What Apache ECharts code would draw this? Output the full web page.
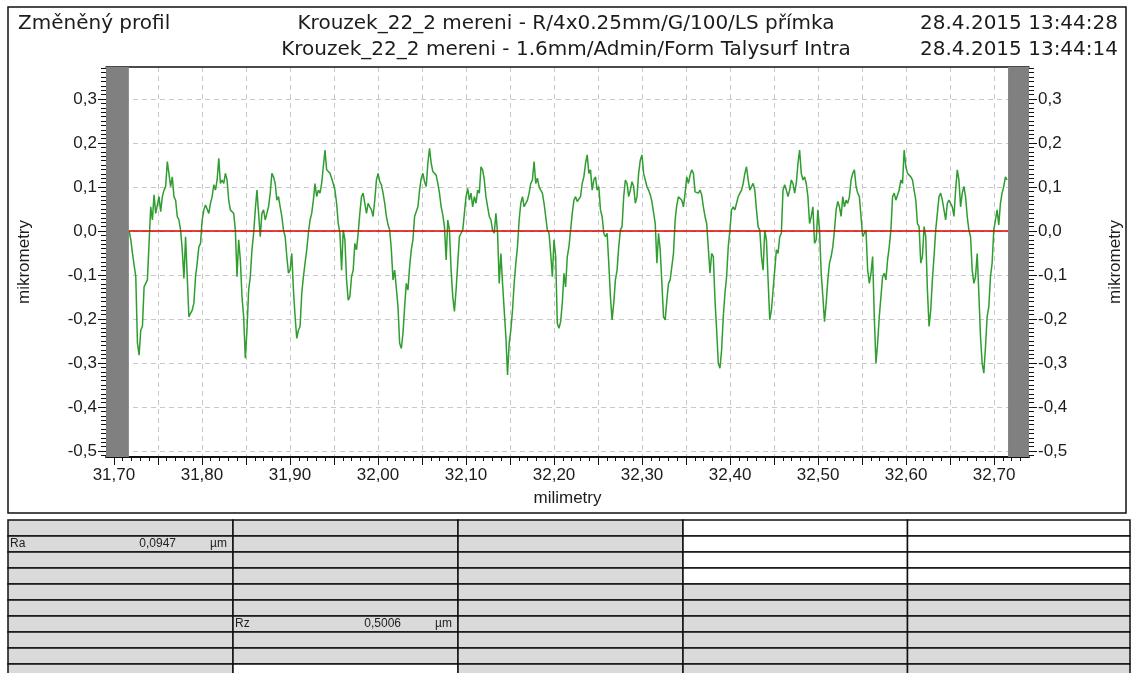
<!DOCTYPE html>
<html>
<head>
<meta charset="utf-8">
<script src="https://cdn.jsdelivr.net/npm/echarts@6.0.0/dist/echarts.min.js"></script>
<style>
html, body { margin: 0; padding: 0; background: #fff; }
#main { width: 1132px; height: 673px; }
</style>
</head>
<body>
<div id="main"></div>
<script>
var myChart = echarts.init(document.getElementById('main'));

// header texts
var headerTitle = 'Změněný profil';
var headerLines = [
    'Krouzek_22_2 mereni - R/4x0.25mm/G/100/LS přímka',
    'Krouzek_22_2 mereni - 1.6mm/Admin/Form Talysurf Intra'
];
var headerDates = ['28.4.2015 13:44:28', '28.4.2015 13:44:14'];

// axes (mm / µm)
var xMin = 31.691, xMax = 32.7396;
var yMin = -0.5136, yMax = 0.3727;
var xLabelValues = [31.70, 31.80, 31.90, 32.00, 32.10, 32.20, 32.30, 32.40, 32.50, 32.60, 32.70];
var xTickValues = [31.70, 31.75, 31.80, 31.85, 31.90, 31.95, 32.00, 32.05, 32.10, 32.15, 32.20,
    32.25, 32.30, 32.35, 32.40, 32.45, 32.50, 32.55, 32.60, 32.65, 32.70];
var yLabelValues = [-0.5, -0.4, -0.3, -0.2, -0.1, 0, 0.1, 0.2, 0.3];

// profile sampling (mm) and excluded run-in / run-out zones
var sampleStart = 31.7173;
var sampleStep = 0.0018854;
var cutLeft = 31.717, cutRight = 32.7158;
var lsLevel = 0;

// measured profile heights, µm
var profileA = [
    0, -0.020, -0.051, -0.052, -0.104, -0.255, -0.282, -0.225, -0.217, -0.127,
    -0.127, -0.111, -0.028, 0.055, 0.025, 0.082, 0.040, 0.044, 0.078, 0.044,
    0.078, 0.093, 0.101, 0.158, 0.154, 0.101, 0.123, 0.078, 0.070, 0.033,
    0.025, 0.002, -0.043, -0.108, -0.013, -0.104, -0.195, -0.187, -0.180, -0.164,
    -0.104, -0.073, -0.036, -0.028, 0.025, 0.048, 0.059, 0.055, 0.040, 0.063,
    0.078, 0.105, 0.093, 0.116, 0.165, 0.108, 0.116, 0.108, 0.131, 0.116,
    0.070, 0.048, 0.052, 0.040, 0.002, -0.104, -0.020, -0.066, -0.149, -0.195,
    -0.289, -0.225, -0.134, -0.104, -0.043, -0.005, 0.048, 0.093, 0.040, -0.013,
    0.040, 0.048, 0.025, 0.040, 0.055, 0.086, 0.131, 0.123, 0.108, 0.070,
    0.078, 0.055, 0.033, 0.002, -0.013, -0.058, -0.096, -0.089, -0.051, -0.134,
    -0.195, -0.244, -0.225, -0.217, -0.142, -0.104, -0.073, -0.043, -0.005, 0.025,
    0.040, 0.070, 0.108, 0.078, 0.093, 0.086, 0.108, 0.146, 0.184, 0.139,
    0.139, 0.131, 0.127, 0.108, 0.093, 0.063, 0.017, -0.005, -0.089, 0.002,
    -0.020, -0.111, -0.157, -0.149, -0.104, -0.089, -0.028, -0.043, -0.005, 0.040,
    0.078, 0.086, 0.063, 0.040, 0.063, 0.055, 0.048, 0.033, 0.070, 0.116,
    0.131, 0.112, 0.105, 0.086, 0.063, 0.033, 0.014, 0.002, -0.043, -0.111,
    -0.089, -0.089, -0.172, -0.255, -0.267, -0.233, -0.172, -0.119, -0.134, -0.081,
    -0.043, -0.020, 0.033, 0.036, 0.055, 0.093, 0.120, 0.131, 0.112, 0.101,
    0.154, 0.188, 0.154, 0.135, 0.131, 0.127, 0.108, 0.086, 0.055, 0.036,
    0.010
];
var profileB = [
    -0.066, 0.025, 0.002, -0.089, -0.149, -0.183, -0.134, -0.073, -0.013, -0.005,
    0.002, 0.040, 0.078, 0.097, 0.070, 0.086, 0.055, 0.078, 0.063, 0.093,
    0.086, 0.146, 0.139, 0.116, 0.078, 0.055, 0.033, 0.025, 0.002, -0.005,
    0.040, -0.005, -0.119, -0.051, -0.119, -0.180, -0.240, -0.327, -0.255, -0.225,
    -0.180, -0.119, -0.073, -0.036, 0.025, 0.063, 0.078, 0.055, 0.063, 0.070,
    0.086, 0.108, 0.116, 0.158, 0.108, 0.120, 0.101, 0.093, 0.086, 0.063,
    0.033, 0.002, -0.005, -0.051, -0.104, -0.020, -0.058, -0.210, -0.221, -0.206,
    -0.164, -0.096, -0.127, -0.058, -0.036, 0.002, 0.040, 0.070, 0.078, 0.067,
    0.063, 0.078, 0.108, 0.123, 0.154, 0.173, 0.131, 0.139, 0.093, 0.116,
    0.123, 0.093, 0.101, 0.048, 0.033, -0.005, -0.013, -0.005, -0.073, -0.149,
    -0.202, -0.164, -0.111, -0.089, -0.036, 0.002, 0.010, 0.078, 0.116, 0.108,
    0.078, 0.093, 0.112, 0.101, 0.063, 0.078, 0.131, 0.161, 0.173, 0.131,
    0.127, 0.101, 0.093, 0.082, 0.067, 0.063, 0.017, -0.073, -0.005, -0.043,
    -0.119, -0.195, -0.202, -0.157, -0.119, -0.111, -0.081, -0.051, 0.025, 0.059,
    0.078, 0.078, 0.070, 0.055, 0.086, 0.123, 0.108, 0.127, 0.139, 0.131,
    0.089, 0.093, 0.086, 0.093, 0.082, 0.055, 0.033, 0.017, 0.017, -0.096,
    -0.051, -0.058, -0.157, -0.225, -0.301, -0.312, -0.270, -0.195, -0.142, -0.104,
    -0.036, 0.002, 0.048, 0.055, 0.048, 0.063, 0.078, 0.078, 0.093, 0.108,
    0.131, 0.146, 0.116, 0.093, 0.101, 0.108, 0.093, 0.048, 0.010, 0.002,
    -0.058
];
var profileC = [
    -0.089, 0.002, -0.020, -0.111, -0.202, -0.180, -0.134, -0.089, -0.043, -0.051,
    -0.013, -0.005, 0.093, 0.105, 0.093, 0.078, 0.093, 0.116, 0.108, 0.086,
    0.108, 0.154, 0.184, 0.131, 0.116, 0.123, 0.108, 0.078, 0.017, 0.033,
    0.055, -0.028, -0.020, 0.048, 0.002, -0.096, -0.149, -0.206, -0.164, -0.111,
    -0.073, -0.058, -0.036, 0.002, 0.048, 0.067, 0.055, 0.033, 0.078, 0.055,
    0.070, 0.063, 0.078, 0.116, 0.131, 0.139, 0.101, 0.086, 0.078, 0.033,
    -0.013, -0.005, 0.002, -0.089, -0.119, -0.096, -0.058, -0.195, -0.301, -0.255,
    -0.195, -0.149, -0.104, -0.096, -0.111, -0.066, -0.036, 0.002, 0.078, 0.086,
    0.070, 0.082, 0.093, 0.116, 0.108, 0.184, 0.146, 0.131, 0.135, 0.123,
    0.116, 0.093, 0.070, 0.017, 0.010, -0.073, -0.058, 0.010, -0.013, -0.134,
    -0.217, -0.180, -0.111, -0.058, 0.002, 0.040, 0.078, 0.086, 0.070, 0.048,
    0.025, 0.063, 0.070, 0.070, 0.055, 0.033, 0.093, 0.139, 0.116, 0.055,
    0.086, 0.101, 0.078, 0.033, 0.002, -0.013, -0.089, -0.119, -0.104, -0.051,
    -0.142, -0.240, -0.301, -0.323, -0.263, -0.195, -0.172, -0.104, -0.073, 0.002,
    0.025, 0.048, 0.014, 0.063, 0.086, 0.101, 0.123, 0.116
];

// parameter table
var paramNames = ['Ra', 'Rz'];
var paramValues = ['0,0947', '0,5006'];
var paramUnit = 'µm';

var profile = profileA.concat(profileB, profileC);
var profileData = profile.map(function (v, i) {
    return [+(sampleStart + i * sampleStep).toFixed(5), v];
});

var xMinor = [];
for (var i = 0; i <= 103; i++) xMinor.push(+(31.70 + i * 0.01).toFixed(2));
var yMinor = [];
for (var j = -51; j <= 37; j++) yMinor.push(+(j * 0.01).toFixed(2));

var comma = function (d) {
    return function (v) { return v.toFixed(d).replace('.', ','); };
};
var labelFont = { fontSize: 17, fontFamily: 'Liberation Sans', color: '#1c1c1c' };
var gridDash = { color: '#c8c8c8', width: 1, type: [5, 4] };

// frame, header, table
var graphics = [
    { type: 'rect', shape: { x: 8, y: 7, width: 1118, height: 506 },
      style: { fill: 'none', stroke: '#111', lineWidth: 1.5 } },
    { type: 'text', x: 18, y: 24, style: { text: headerTitle, font: '20px "DejaVu Sans"', fill: '#1c1c1c', textVerticalAlign: 'middle' } }
];
headerLines.forEach(function (t, k) {
    graphics.push({ type: 'text', x: 566, y: 24 + k * 26,
        style: { text: t, font: '20px "DejaVu Sans"', fill: '#1c1c1c', textAlign: 'center', textVerticalAlign: 'middle' } });
    graphics.push({ type: 'text', x: 1118, y: 24 + k * 26,
        style: { text: headerDates[k], font: '20px "DejaVu Sans"', fill: '#1c1c1c', textAlign: 'right', textVerticalAlign: 'middle' } });
});

var colX = [8, 233, 458, 683, 907.5, 1130];
var rowTop = 520, rowH = 16, rowCount = 10;
var whiteCells = ['3-0', '3-1', '3-2', '3-3', '4-0', '4-1', '4-2', '4-3', '1-9'];
for (var c = 0; c < colX.length - 1; c++) {
    for (var r = 0; r < rowCount; r++) {
        graphics.push({ type: 'rect',
            shape: { x: colX[c], y: rowTop + r * rowH, width: colX[c + 1] - colX[c], height: rowH },
            style: { fill: whiteCells.indexOf(c + '-' + r) >= 0 ? '#ffffff' : '#dadada', stroke: '#111', lineWidth: 1.5 } });
    }
}
var paramCells = [[0, 1], [1, 6]];
paramCells.forEach(function (cell, k) {
    var x0 = colX[cell[0]], yc = rowTop + cell[1] * rowH + rowH / 2;
    var f = '12px "Liberation Sans"';
    graphics.push({ type: 'text', x: x0 + 2, y: yc, style: { text: paramNames[k], font: f, fill: '#222', textVerticalAlign: 'middle' } });
    graphics.push({ type: 'text', x: x0 + 168, y: yc, style: { text: paramValues[k], font: f, fill: '#222', textAlign: 'right', textVerticalAlign: 'middle' } });
    graphics.push({ type: 'text', x: x0 + 202, y: yc, style: { text: paramUnit, font: f, fill: '#222', textVerticalAlign: 'middle' } });
});

option = {
    animation: false,
    backgroundColor: '#fff',
    grid: { left: 106, right: 99, top: 67, bottom: 216 },
    xAxis: [
        {
            type: 'value', min: xMin, max: xMax, position: 'bottom',
            name: 'milimetry', nameLocation: 'middle', nameGap: 33,
            nameTextStyle: labelFont,
            axisLine: { onZero: false, lineStyle: { color: '#111', width: 2 } },
            axisTick: { customValues: xTickValues, length: 8, lineStyle: { color: '#111' } },
            axisLabel: Object.assign({ customValues: xLabelValues, formatter: comma(2), margin: 10 }, labelFont),
            splitLine: { show: true, lineStyle: gridDash }
        },
        {
            type: 'value', min: xMin, max: xMax, position: 'bottom',
            axisLine: { show: false, onZero: false },
            axisTick: { customValues: xMinor, length: 4, lineStyle: { color: '#111' } },
            axisLabel: { show: false }, splitLine: { show: false }
        },
        {
            type: 'value', min: xMin, max: xMax, position: 'top',
            axisLine: { onZero: false, lineStyle: { color: '#111', width: 1.5 } },
            axisTick: { show: false }, axisLabel: { show: false }, splitLine: { show: false }
        }
    ],
    yAxis: [
        {
            type: 'value', min: yMin, max: yMax, position: 'left',
            name: 'mikrometry', nameLocation: 'middle', nameGap: 73, nameRotate: 90,
            nameTextStyle: labelFont,
            axisLine: { show: false, onZero: false },
            axisTick: { customValues: yLabelValues, length: 8, lineStyle: { color: '#111' } },
            axisLabel: Object.assign({ customValues: yLabelValues, formatter: comma(1), margin: 9 }, labelFont),
            splitLine: { show: true, lineStyle: gridDash }
        },
        {
            type: 'value', min: yMin, max: yMax, position: 'left',
            axisLine: { show: false, onZero: false },
            axisTick: { customValues: yMinor, length: 5, lineStyle: { color: '#111' } },
            axisLabel: { show: false }, splitLine: { show: false }
        },
        {
            type: 'value', min: yMin, max: yMax, position: 'right',
            name: 'mikrometry', nameLocation: 'middle', nameGap: 78, nameRotate: 90,
            nameTextStyle: labelFont,
            axisLine: { show: false, onZero: false },
            axisTick: { customValues: yLabelValues, length: 8, lineStyle: { color: '#111' } },
            axisLabel: Object.assign({ customValues: yLabelValues, formatter: comma(1), margin: 9 }, labelFont),
            splitLine: { show: false }
        },
        {
            type: 'value', min: yMin, max: yMax, position: 'right',
            axisLine: { show: false, onZero: false },
            axisTick: { customValues: yMinor, length: 5, lineStyle: { color: '#111' } },
            axisLabel: { show: false }, splitLine: { show: false }
        }
    ],
    series: [
        {
            name: 'profil',
            type: 'line',
            xAxisIndex: 0,
            yAxisIndex: 0,
            data: profileData,
            symbol: 'none',
            lineStyle: { color: '#2f9d2f', width: 1.5 },
            markArea: {
                silent: true,
                itemStyle: { color: '#808080', opacity: 1 },
                data: [
                    [{ xAxis: xMin }, { xAxis: cutLeft }],
                    [{ xAxis: cutRight }, { xAxis: xMax }]
                ]
            }
        },
        {
            name: 'LS',
            type: 'line',
            xAxisIndex: 0,
            yAxisIndex: 0,
            data: [[cutLeft, lsLevel], [cutRight, lsLevel]],
            symbol: 'none',
            lineStyle: { color: '#dd0000', width: 1.3 },
            z: 5
        }
    ],
    graphic: graphics
};

myChart.setOption(option);
</script>
</body>
</html>
